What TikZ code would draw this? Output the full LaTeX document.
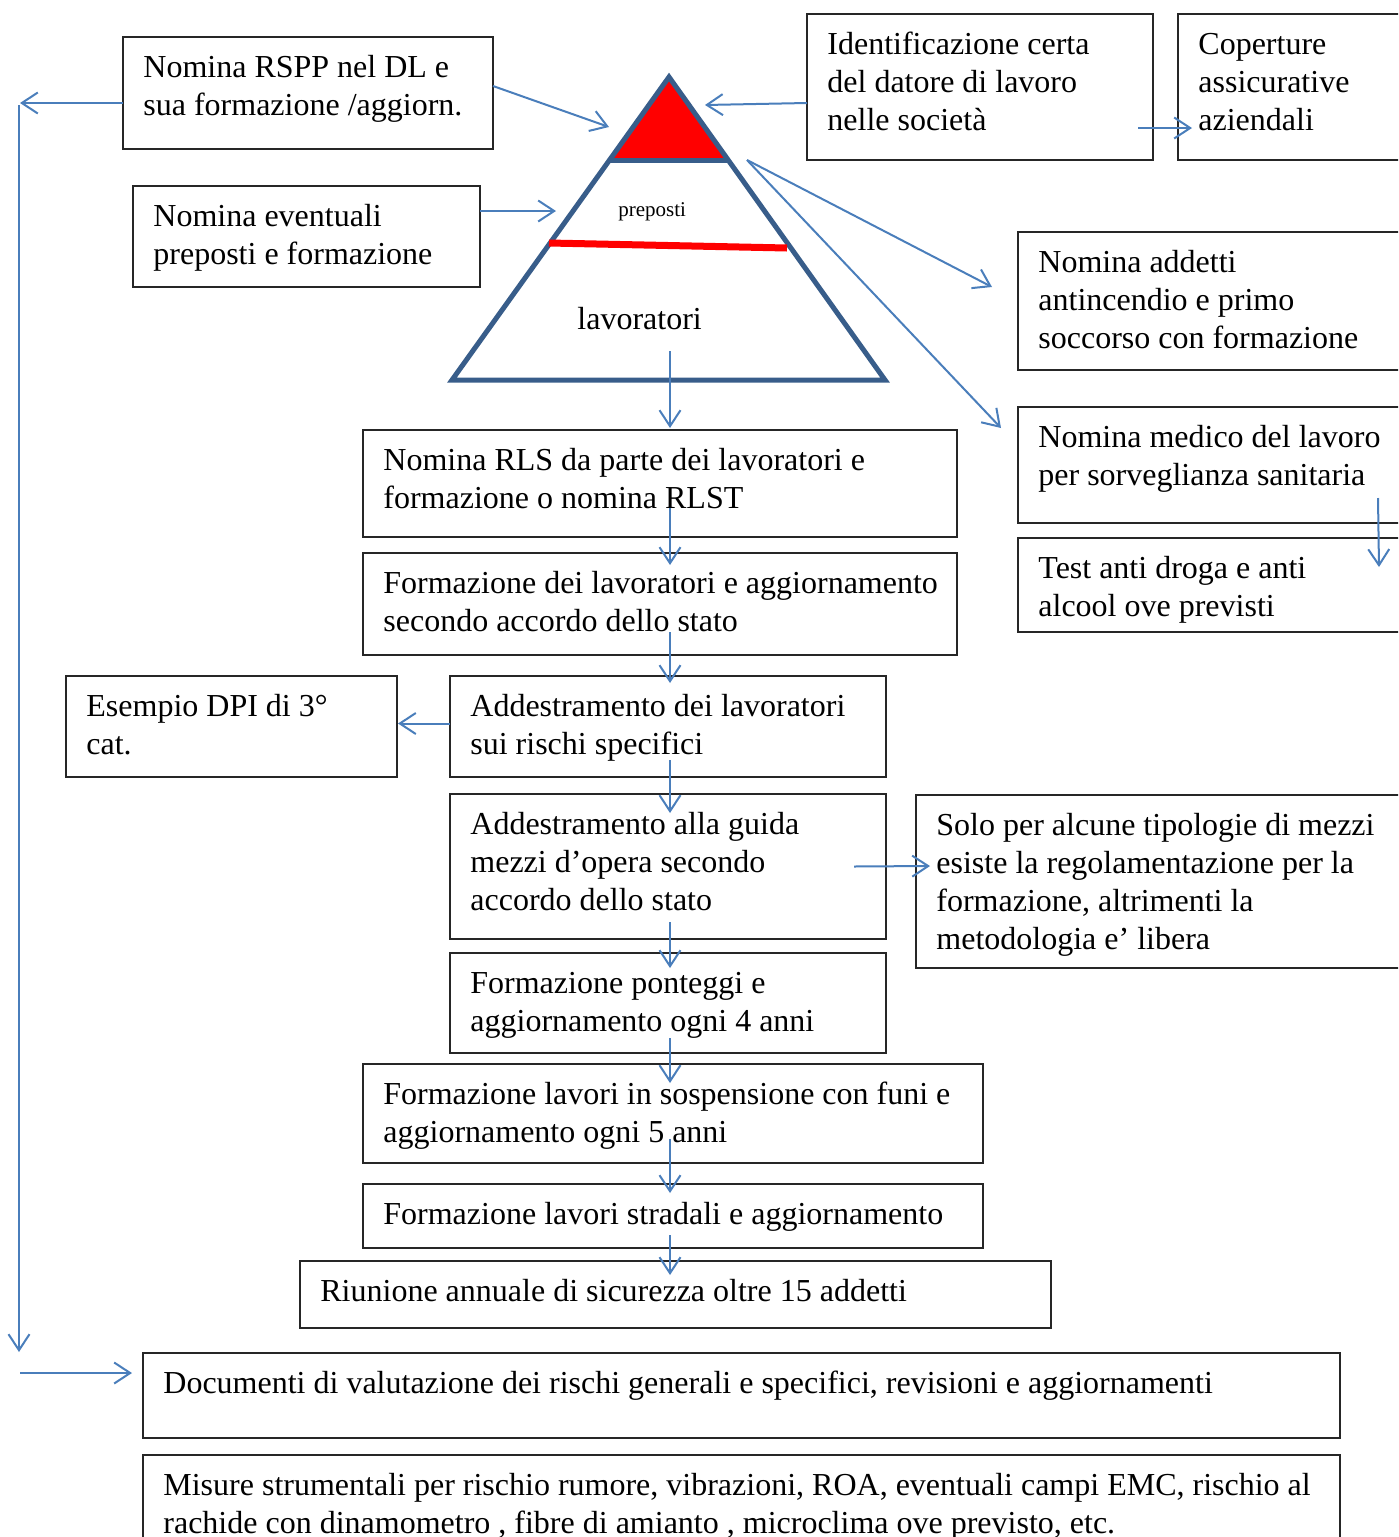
\documentclass[tikz,border=0pt]{standalone}
\usepackage{fontspec}
\setmainfont{Liberation Serif}
\usetikzlibrary{arrows.meta,fit,calc}
\definecolor{arrowblue}{HTML}{4A7EBB}
\definecolor{tridark}{HTML}{385D8A}
\newcommand\mkbox[6]{%
  \coordinate (#1-a) at (#2,#3);
  \coordinate (#1-b) at (#4,#5);
  \node[box, fit=(#1-a)(#1-b)] (#1) {};
  \node[txt] (#1-t) at ($(#1-a)+(20,40)$) {\begin{tabular}[t]{@{}l@{}}#6\end{tabular}};%
}
\tikzset{
  box/.style={draw=black!85, line width=0.75pt, rectangle, inner sep=0pt, outer sep=0pt},
  txt/.style={anchor=base west, inner sep=0pt, font=\fontsize{16}{19}\selectfont},
  arr/.style={draw=arrowblue, line width=1pt, -{Straight Barb[length=8pt,width=10.5pt]}},
}
\begin{document}
\begin{tikzpicture}[x=0.5pt,y=-0.5pt]
\useasboundingbox (0,0) rectangle (1398,1537);
\clip (0,0) rectangle (1398,1537);

% boxes
\mkbox{rspp}{123}{37}{493}{149}{Nomina RSPP nel DL e\\sua formazione /aggiorn.}
\mkbox{ident}{807}{14}{1153}{160}{Identificazione certa\\del datore di lavoro\\nelle società}
\mkbox{cop}{1178}{14}{1420}{160}{Coperture\\assicurative\\aziendali}
\mkbox{prep}{133}{186}{480}{287}{Nomina eventuali\\preposti e formazione}
\mkbox{addetti}{1018}{232}{1420}{370}{Nomina addetti\\antincendio e primo\\soccorso con formazione}
\mkbox{medico}{1018}{407}{1420}{523}{Nomina medico del lavoro\\per sorveglianza sanitaria}
\mkbox{test}{1018}{538}{1420}{632}{Test anti droga e anti\\alcool ove previsti}
\mkbox{rls}{363}{430}{957}{537}{Nomina RLS da parte dei lavoratori e\\formazione o nomina RLST}
\mkbox{form}{363}{553}{957}{655}{Formazione dei lavoratori e aggiornamento\\secondo accordo dello stato}
\mkbox{dpi}{66}{676}{397}{777}{Esempio DPI di 3°\\cat.}
\mkbox{add}{450}{676}{886}{777}{Addestramento dei lavoratori\\sui rischi specifici}
\mkbox{guida}{450}{794}{886}{939}{Addestramento alla guida\\mezzi d’opera secondo\\accordo dello stato}
\mkbox{solo}{916}{795}{1420}{968}{Solo per alcune tipologie di mezzi\\esiste la regolamentazione per la\\formazione, altrimenti la\\metodologia e’ libera}
\mkbox{pont}{450}{953}{886}{1053}{Formazione ponteggi e\\aggiornamento ogni 4 anni}
\mkbox{sosp}{363}{1064}{983}{1163}{Formazione lavori in sospensione con funi e\\aggiornamento ogni 5 anni}
\mkbox{strad}{363}{1184}{983}{1248}{Formazione lavori stradali e aggiornamento}
\mkbox{riun}{300}{1261}{1051}{1328}{Riunione annuale di sicurezza oltre 15 addetti}
\mkbox{doc}{143}{1353}{1340}{1438}{Documenti di valutazione dei rischi generali e specifici, revisioni e aggiornamenti}
\mkbox{mis}{143}{1455}{1340}{1560}{Misure strumentali per rischio rumore, vibrazioni, ROA, eventuali campi EMC, rischio al\\rachide con dinamometro , fibre di amianto , microclima ove previsto, etc.}

% pyramid
\coordinate (apex) at (669,77);
\coordinate (tbl) at (452,380);
\coordinate (tbr) at (885,380);
\coordinate (tml) at (609.5,160);
\coordinate (tmr) at (728.5,160);
\fill[red] (apex) -- (tml) -- (tmr) -- cycle;
\draw[tridark, line width=2.5pt] (apex) -- (tbl) -- (tbr) -- cycle;
\draw[tridark, line width=2.5pt] (tml) -- (tmr);
\coordinate (rl1) at (549,243);
\coordinate (rl2) at (787,248);
\draw[red, line width=3.5pt] (rl1) -- (rl2);
\node[anchor=base west, inner sep=0pt, font=\fontsize{10.5}{12}\selectfont] (preposti) at (618,216) {preposti};
\node[anchor=base west, inner sep=0pt, font=\fontsize{16}{19}\selectfont] (lavoratori) at (577,329) {lavoratori};

% arrow end points on the pyramid
\coordinate (tipA) at (609,127);
\coordinate (tipB) at (705,105);
\coordinate (tipC) at (556,211);
\coordinate (triR) at (747,160);
\coordinate (triOut) at (670,351);
\coordinate (col) at (670,0);

% arrows into / out of the pyramid
\draw[arr] ($(rspp.east)+(0,-7)$) -- (tipA);
\draw[arr] ($(ident.west)+(0,16)$) -- (tipB);
\draw[arr] ($(prep.east)+(0,-25.5)$) -- (tipC);
\draw[arr] (triR) -- ($(addetti.west)+(-26,-14)$);
\draw[arr] (triR) -- ($(medico.west)+(-17,-37)$);
\draw[arr] (triOut) -- ($(rls.north -| col)+(0,-2)$);

% top right
\draw[arr] ($(ident.east)+(-15,41)$) -- ($(cop.west)+(14,41)$);
\draw[arr] ($(medico.south west)+(360,-25)$) -- ($(test.north west)+(361,29)$);

% central column
\draw[arr] ($(rls.south -| col)+(0,-29)$) -- ($(form.north -| col)+(0,12)$);
\draw[arr] ($(form.south -| col)+(0,-23)$) -- ($(add.north -| col)+(0,7)$);
\draw[arr] ($(add.south -| col)+(0,-17)$) -- ($(guida.north -| col)+(0,19)$);
\draw[arr] ($(guida.south -| col)+(0,-17)$) -- ($(pont.north -| col)+(0,15)$);
\draw[arr] ($(pont.south -| col)+(0,-15)$) -- ($(sosp.north -| col)+(0,19)$);
\draw[arr] ($(sosp.south -| col)+(0,-24)$) -- ($(strad.north -| col)+(0,9)$);
\draw[arr] ($(strad.south -| col)+(0,-13)$) -- ($(riun.north -| col)+(0,14)$);

% side arrows
\draw[arr] ($(add.west)+(0,-3)$) -- ($(dpi.east)+(1,-3)$);
\draw[arr] ($(guida.east)+(-32,0)$) -- ($(solo.west)+(14,-15.5)$);

% left loop
\coordinate (L1) at (20,103);
\coordinate (L2) at (19,105);
\coordinate (L3) at (19,1352);
\coordinate (L4) at (20,1373);
\draw[arr] ($(rspp.west)+(0,10)$) -- (L1);
\draw[arr] (L2) -- (L3);
\draw[arr] (L4) -- ($(doc.west)+(-11,-22.5)$);
\end{tikzpicture}
\end{document}
